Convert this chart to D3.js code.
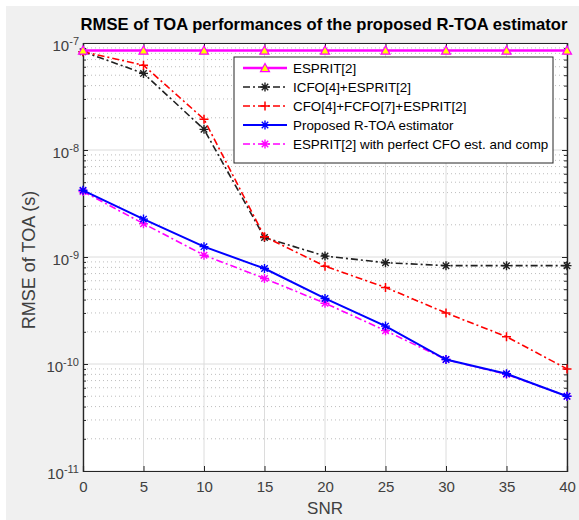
<!DOCTYPE html>
<html><head><meta charset="utf-8">
<script src="https://cdn.jsdelivr.net/npm/d3@7"></script>
<style>body{margin:0;background:#fff;}svg{display:block;font-family:"Liberation Sans",Arial,sans-serif;}</style>
</head><body>
<script>
const snr = [0, 5, 10, 15, 20, 25, 30, 35, 40];
const xTicks = [0, 5, 10, 15, 20, 25, 30, 35, 40];
const yDecades = [-11, -10, -9, -8, -7];
const espritVals = [8.5e-8, 8.5e-8, 8.5e-8, 8.5e-8, 8.5e-8, 8.5e-8, 8.5e-8, 8.5e-8, 8.5e-8];
const icfoVals = [8.3e-8, 5.2e-8, 1.56e-8, 1.52e-9, 1.02e-9, 8.85e-10, 8.3e-10, 8.3e-10, 8.3e-10];
const cfoVals = [8.3e-8, 6.2e-8, 1.94e-8, 1.55e-9, 8.2e-10, 5.2e-10, 3.0e-10, 1.8e-10, 9.0e-11];
const proposedVals = [4.2e-9, 2.26e-9, 1.25e-9, 7.8e-10, 4.1e-10, 2.26e-10, 1.1e-10, 8.1e-11, 5.0e-11];
const perfectVals = [4.1e-9, 2.05e-9, 1.04e-9, 6.3e-10, 3.7e-10, 2.05e-10, 1.1e-10, 8.0e-11, 5.0e-11];
const seriesNames = ["ESPRIT[2]", "ICFO[4]+ESPRIT[2]", "CFO[4]+FCFO[7]+ESPRIT[2]", "Proposed R-TOA estimator", "ESPRIT[2] with perfect CFO est. and comp"];
const titleText = "RMSE of TOA performances of the proposed R-TOA estimator";
const xLabel = "SNR";
const yLabel = "RMSE of TOA (s)";

const W = 579, H = 520;
const L = 83, R = 567, T = 43, B = 471;
const svg = d3.select("body").append("svg").attr("width", W).attr("height", H);
svg.append("rect").attr("x", 6).attr("y", 6).attr("width", W - 6).attr("height", H - 6).attr("fill", "#f0f0f0");
svg.append("rect").attr("x", L).attr("y", T).attr("width", R - L).attr("height", B - T).attr("fill", "#fff");

const x = d3.scaleLinear().domain([0, 40]).range([L, R]);
const y = d3.scaleLog().domain([1e-11, 1e-7]).range([B, T]);

// minor grid (dotted)
const minor = [];
for (let d = -11; d < -7; d++) for (let m = 2; m <= 9; m++) minor.push(m * Math.pow(10, d));
const g = svg.append("g");
g.selectAll(".mg").data(minor).enter().append("line")
  .attr("x1", L).attr("x2", R).attr("y1", d => y(d)).attr("y2", d => y(d))
  .attr("stroke", "#bdbdbd").attr("stroke-width", 1).attr("stroke-dasharray", "1,3");
// major grid
g.selectAll(".My").data(yDecades).enter().append("line")
  .attr("x1", L).attr("x2", R).attr("y1", d => y(Math.pow(10, d))).attr("y2", d => y(Math.pow(10, d)))
  .attr("stroke", "#dcdcdc").attr("stroke-width", 1);
g.selectAll(".Mx").data(xTicks).enter().append("line")
  .attr("x1", d => x(d)).attr("x2", d => x(d)).attr("y1", T).attr("y2", B)
  .attr("stroke", "#dcdcdc").attr("stroke-width", 1);

// axes with d3 axis (inward ticks)
const ax = "#262626";
const xb = svg.append("g").attr("transform", `translate(0,${B})`)
  .call(d3.axisBottom(x).tickValues(xTicks).tickSize(-5).tickFormat(d3.format("d")).tickPadding(10));
const xt = svg.append("g").attr("transform", `translate(0,${T})`)
  .call(d3.axisTop(x).tickValues(xTicks).tickSize(-5).tickFormat(""));
const yl = svg.append("g").attr("transform", `translate(${L},0)`)
  .call(d3.axisLeft(y).tickValues(yDecades.map(d => Math.pow(10, d))).tickSize(-5).tickFormat(""));
const yr = svg.append("g").attr("transform", `translate(${R},0)`)
  .call(d3.axisRight(y).tickValues(yDecades.map(d => Math.pow(10, d))).tickSize(-5).tickFormat(""));
const ylm = svg.append("g").attr("transform", `translate(${L},0)`)
  .call(d3.axisLeft(y).tickValues(minor).tickSize(-3).tickFormat(""));
const yrm = svg.append("g").attr("transform", `translate(${R},0)`)
  .call(d3.axisRight(y).tickValues(minor).tickSize(-3).tickFormat(""));
[xb, xt, yl, yr, ylm, yrm].forEach(s => {
  s.select(".domain").attr("stroke", ax).attr("stroke-width", 1.2);
  s.selectAll(".tick line").attr("stroke", ax);
});
xb.selectAll(".tick text").attr("font-size", 15).attr("fill", "#404040")
  .attr("font-family", "Liberation Sans, Arial, sans-serif");

// y tick labels 10^n
svg.append("g").selectAll("text").data(yDecades).enter().append("text")
  .attr("x", L - 4).attr("y", d => y(Math.pow(10, d)) + 8)
  .attr("text-anchor", "end").attr("fill", "#404040").attr("font-size", 15)
  .each(function(d) {
    const t = d3.select(this);
    t.append("tspan").text("10");
    t.append("tspan").attr("dy", -6).attr("font-size", 11).text(String(d));
  });

// labels
svg.append("text").attr("x", (L + R) / 2 - 1).attr("y", 30).attr("text-anchor", "middle")
  .attr("font-weight", "bold").attr("font-size", 16.6).attr("fill", "#000").text(titleText);
svg.append("text").attr("x", (L + R) / 2).attr("y", 514).attr("text-anchor", "middle")
  .attr("font-size", 17).attr("fill", "#404040").text(xLabel);
svg.append("text").attr("transform", `translate(35,${(T + B) / 2 + 3}) rotate(-90)`).attr("text-anchor", "middle")
  .attr("font-size", 18).attr("fill", "#404040").text(yLabel);

// series
const dd = "7,3,2,3";
const series = [
  {vals: espritVals, color: "#ff00ff", w: 2.5, dash: null, marker: "tri"},
  {vals: icfoVals, color: "#202020", w: 1.6, dash: dd, marker: "star"},
  {vals: cfoVals, color: "#ff0000", w: 1.6, dash: dd, marker: "plus"},
  {vals: proposedVals, color: "#0000ff", w: 2, dash: null, marker: "star"},
  {vals: perfectVals, color: "#ff00ff", w: 1.6, dash: dd, marker: "star"}
];
const line = d3.line().x(d => x(d[0])).y(d => y(d[1]));
function drawMarker(sel, type, cx, cy, color) {
  const s = 4.5;
  if (type === "tri") {
    sel.append("path").attr("d", `M${cx},${cy - s}L${cx + s},${cy + s * 0.8}L${cx - s},${cy + s * 0.8}Z`)
      .attr("fill", "#ffff00").attr("stroke", color).attr("stroke-width", 1.2);
  } else if (type === "plus") {
    sel.append("path").attr("d", `M${cx - s},${cy}L${cx + s},${cy}M${cx},${cy - s}L${cx},${cy + s}`)
      .attr("stroke", color).attr("stroke-width", 1.5).attr("fill", "none");
  } else {
    const k = s * 0.72;
    sel.append("path").attr("d", `M${cx - s},${cy}L${cx + s},${cy}M${cx},${cy - s}L${cx},${cy + s}M${cx - k},${cy - k}L${cx + k},${cy + k}M${cx - k},${cy + k}L${cx + k},${cy - k}`)
      .attr("stroke", color).attr("stroke-width", 1.4).attr("fill", "none");
  }
}
const sg = svg.append("g");
[1, 2, 4, 3, 0].forEach(i => {
  const s = series[i];
  const pts = snr.map((v, j) => [v, s.vals[j]]);
  sg.append("path").datum(pts).attr("d", line).attr("fill", "none")
    .attr("stroke", s.color).attr("stroke-width", s.w).attr("stroke-dasharray", s.dash);
  pts.forEach(p => drawMarker(sg, s.marker, x(p[0]), y(p[1]), s.color));
});

// legend
const lg = svg.append("g");
lg.append("rect").attr("x", 234).attr("y", 57).attr("width", 319).attr("height", 106)
  .attr("fill", "#fff").attr("stroke", "#262626").attr("stroke-width", 1);
seriesNames.forEach((name, i) => {
  const s = series[i];
  const yy = 68 + i * 19;
  lg.append("line").attr("x1", 243).attr("x2", 287).attr("y1", yy).attr("y2", yy)
    .attr("stroke", s.color).attr("stroke-width", s.w).attr("stroke-dasharray", s.dash);
  drawMarker(lg, s.marker, 265, yy, s.color);
  lg.append("text").attr("x", 293).attr("y", yy + 5).attr("font-size", 13.4).attr("fill", "#000").text(name);
});
</script>
</body></html>
